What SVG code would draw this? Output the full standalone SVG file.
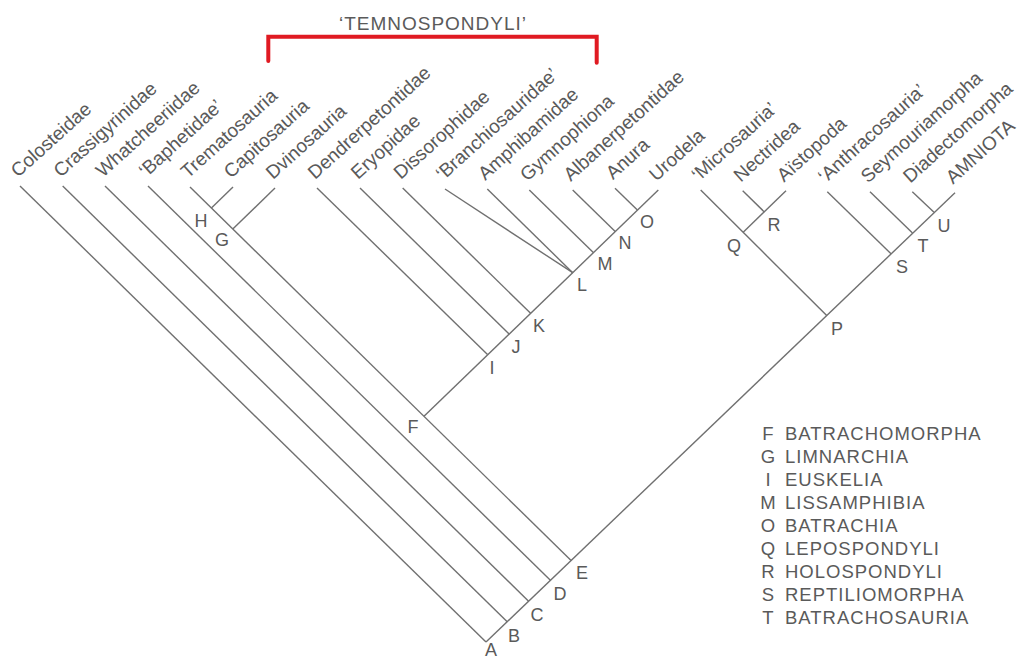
<svg xmlns="http://www.w3.org/2000/svg" width="1026" height="661" viewBox="0 0 1026 661">
<style>
  .bg{fill:#ffffff}
  .ln{stroke:#707070;stroke-width:1.4;fill:none;stroke-linecap:butt}
  .tip{font-family:"Liberation Sans",Arial,sans-serif;font-size:19px;fill:#5a5a5a}
  .nd{font-family:"Liberation Sans",Arial,sans-serif;font-size:18px;fill:#5a5a5a;text-anchor:middle}
  .lg{font-family:"Liberation Sans",Arial,sans-serif;font-size:18.5px;letter-spacing:1px;fill:#5a5a5a}
  .lgk{font-family:"Liberation Sans",Arial,sans-serif;font-size:18.5px;fill:#5a5a5a;text-anchor:middle}
  .ttl{font-family:"Liberation Sans",Arial,sans-serif;font-size:19px;letter-spacing:1px;fill:#5a5a5a;text-anchor:middle}
  .br{stroke:#e01a22;stroke-width:4;fill:none;stroke-linecap:round;stroke-linejoin:miter}
</style>
<rect class="bg" x="0" y="0" width="1026" height="661"/>

<g id="title">
  <text class="ttl" x="433" y="30">‘TEMNOSPONDYLI’</text>
  <path class="br" d="M268.3,61 V36.7 H596.7 V62.7"/>
</g>

<g id="connectors">
  <path class="ln" d="M20,186 L486,642"/>
  <path class="ln" d="M486,642 L955,192.7"/>
  <path class="ln" d="M62.7,186 L507.2,621.8"/>
  <path class="ln" d="M105,186 L528.6,601.2"/>
  <path class="ln" d="M148,186 L550.4,580.3"/>
  <path class="ln" d="M190,187 L571.1,560.5"/>
  <path class="ln" d="M233,187 L211.4,208"/>
  <path class="ln" d="M275,188 L232.8,229"/>
  <path class="ln" d="M424,416.3 L658.3,190"/>
  <path class="ln" d="M317,188 L487.5,354.5"/>
  <path class="ln" d="M360,188 L509.1,334.1"/>
  <path class="ln" d="M402.7,188 L530.6,313.3"/>
  <path class="ln" d="M445,189 L572.7,272.7"/>
  <path class="ln" d="M487.3,189 L572.7,272.7"/>
  <path class="ln" d="M529.3,190 L593.3,252.4"/>
  <path class="ln" d="M572.7,190 L615.2,231.4"/>
  <path class="ln" d="M615,188.3 L637.4,210.1"/>
  <path class="ln" d="M700.7,190 L826.7,315.6"/>
  <path class="ln" d="M786,190.7 L743.2,232.2"/>
  <path class="ln" d="M742.7,190.7 L764.3,211.9"/>
  <path class="ln" d="M827.3,191.7 L891,253.7"/>
  <path class="ln" d="M870,191.7 L912.5,233"/>
  <path class="ln" d="M912.3,191.7 L934,212.3"/>
</g>

<g id="tip-colosteidae"><text class="tip" transform="translate(18,178) rotate(-42)">Colosteidae</text></g>
<g id="tip-crassigyrinidae"><text class="tip" transform="translate(60.7,178) rotate(-42)">Crassigyrinidae</text></g>
<g id="tip-whatcheeriidae"><text class="tip" transform="translate(103,178) rotate(-42)">Whatcheeriidae</text></g>
<g id="tip-baphetidae"><text class="tip" transform="translate(146,178) rotate(-42)">‘Baphetidae’</text></g>
<g id="tip-trematosauria"><text class="tip" transform="translate(188,179) rotate(-42)">Trematosauria</text></g>
<g id="tip-capitosauria"><text class="tip" transform="translate(231,179) rotate(-42)">Capitosauria</text></g>
<g id="tip-dvinosauria"><text class="tip" transform="translate(273,180) rotate(-42)">Dvinosauria</text></g>
<g id="tip-dendrerpetontidae"><text class="tip" transform="translate(315,180) rotate(-42)">Dendrerpetontidae</text></g>
<g id="tip-eryopidae"><text class="tip" transform="translate(358,180) rotate(-42)">Eryopidae</text></g>
<g id="tip-dissorophidae"><text class="tip" transform="translate(400.7,180) rotate(-42)">Dissorophidae</text></g>
<g id="tip-branchiosauridae"><text class="tip" transform="translate(443,181) rotate(-42)">‘Branchiosauridae’</text></g>
<g id="tip-amphibamidae"><text class="tip" transform="translate(485.3,181) rotate(-42)">Amphibamidae</text></g>
<g id="tip-gymnophiona"><text class="tip" transform="translate(527.3,182) rotate(-42)">Gymnophiona</text></g>
<g id="tip-albanerpetontidae"><text class="tip" transform="translate(570.7,182) rotate(-42)">Albanerpetontidae</text></g>
<g id="tip-anura"><text class="tip" transform="translate(613,180.3) rotate(-42)">Anura</text></g>
<g id="tip-urodela"><text class="tip" transform="translate(656.3,182) rotate(-42)">Urodela</text></g>
<g id="tip-microsauria"><text class="tip" transform="translate(698.7,182) rotate(-42)">‘Microsauria’</text></g>
<g id="tip-nectridea"><text class="tip" transform="translate(740.7,182.7) rotate(-42)">Nectridea</text></g>
<g id="tip-aistopoda"><text class="tip" transform="translate(784,182.7) rotate(-42)">Aïstopoda</text></g>
<g id="tip-anthracosauria"><text class="tip" transform="translate(825.3,183.7) rotate(-42)">‘Anthracosauria’</text></g>
<g id="tip-seymouriamorpha"><text class="tip" transform="translate(868,183.7) rotate(-42)">Seymouriamorpha</text></g>
<g id="tip-diadectomorpha"><text class="tip" transform="translate(910.3,183.7) rotate(-42)">Diadectomorpha</text></g>
<g id="tip-amniota"><text class="tip" transform="translate(953,184.7) rotate(-42)">AMNIOTA</text></g>

<g id="node-A"><text class="nd" x="491" y="656">A</text></g>
<g id="node-B"><text class="nd" x="514" y="642">B</text></g>
<g id="node-C"><text class="nd" x="537" y="621">C</text></g>
<g id="node-D"><text class="nd" x="560" y="600">D</text></g>
<g id="node-E"><text class="nd" x="582" y="579">E</text></g>
<g id="node-F"><text class="nd" x="413" y="433">F</text></g>
<g id="node-G"><text class="nd" x="222" y="246">G</text></g>
<g id="node-H"><text class="nd" x="201" y="227">H</text></g>
<g id="node-I"><text class="nd" x="492" y="374">I</text></g>
<g id="node-J"><text class="nd" x="516" y="353">J</text></g>
<g id="node-K"><text class="nd" x="539" y="332">K</text></g>
<g id="node-L"><text class="nd" x="582" y="291">L</text></g>
<g id="node-M"><text class="nd" x="605" y="270">M</text></g>
<g id="node-N"><text class="nd" x="625" y="249">N</text></g>
<g id="node-O"><text class="nd" x="647" y="228">O</text></g>
<g id="node-P"><text class="nd" x="837" y="335">P</text></g>
<g id="node-Q"><text class="nd" x="734" y="252">Q</text></g>
<g id="node-R"><text class="nd" x="774" y="231">R</text></g>
<g id="node-S"><text class="nd" x="902" y="273">S</text></g>
<g id="node-T"><text class="nd" x="923" y="252">T</text></g>
<g id="node-U"><text class="nd" x="944" y="232">U</text></g>

<g id="legend">
  <text class="lgk" x="768" y="439.5">F</text><text class="lg" x="785" y="439.5">BATRACHOMORPHA</text>
  <text class="lgk" x="768" y="462.5">G</text><text class="lg" x="785" y="462.5">LIMNARCHIA</text>
  <text class="lgk" x="768" y="485.5">I</text><text class="lg" x="785" y="485.5">EUSKELIA</text>
  <text class="lgk" x="768" y="508.5">M</text><text class="lg" x="785" y="508.5">LISSAMPHIBIA</text>
  <text class="lgk" x="768" y="531.5">O</text><text class="lg" x="785" y="531.5">BATRACHIA</text>
  <text class="lgk" x="768" y="554.5">Q</text><text class="lg" x="785" y="554.5">LEPOSPONDYLI</text>
  <text class="lgk" x="768" y="577.5">R</text><text class="lg" x="785" y="577.5">HOLOSPONDYLI</text>
  <text class="lgk" x="768" y="600.5">S</text><text class="lg" x="785" y="600.5">REPTILIOMORPHA</text>
  <text class="lgk" x="768" y="623.5">T</text><text class="lg" x="785" y="623.5">BATRACHOSAURIA</text>
</g>
</svg>
